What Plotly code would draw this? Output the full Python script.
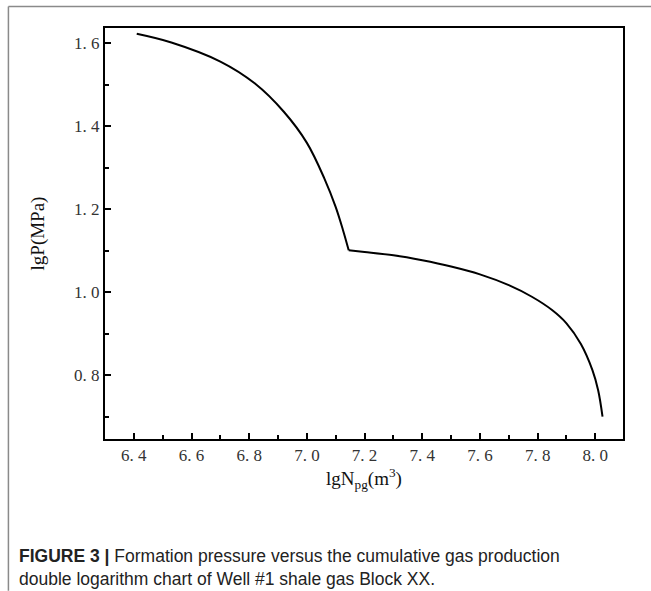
import plotly.graph_objects as go

# data
# early (steeper) regime, up to the break point
x_early = [6.41, 6.53, 6.70, 6.82, 6.92, 7.00, 7.06, 7.10, 7.125, 7.145]
y_early = [1.623, 1.602, 1.556, 1.503, 1.435, 1.360, 1.275, 1.205, 1.150, 1.101]
# late regime, from the break point on
x_late = [7.145, 7.20, 7.30, 7.40, 7.50, 7.60, 7.70, 7.78, 7.85, 7.90, 7.95, 7.99, 8.01, 8.025]
y_late = [1.101, 1.097, 1.089, 1.077, 1.062, 1.043, 1.017, 0.989, 0.957, 0.925, 0.875, 0.812,
          0.763, 0.700]

x_ticks = [6.4, 6.6, 6.8, 7.0, 7.2, 7.4, 7.6, 7.8, 8.0]
x_ticktext = ["6. 4", "6. 6", "6. 8", "7. 0", "7. 2", "7. 4", "7. 6", "7. 8", "8. 0"]
x_minor = [6.5, 6.7, 6.9, 7.1, 7.3, 7.5, 7.7, 7.9]
y_ticks = [0.8, 1.0, 1.2, 1.4, 1.6]
y_ticktext = ["0. 8", "1. 0", "1. 2", "1. 4", "1. 6"]
y_minor = [0.7, 0.9, 1.1, 1.3, 1.5]

W, H = 651, 591
L, R, T, B = 104.6, 622.7, 27.5, 439
pw, ph = R - L, B - T

def px(x):
    return (x - L) / pw

def py(y):
    return (B - y) / ph

serif = "Liberation Serif, Times New Roman, serif"

fig = go.Figure()
for xs, ys in [(x_early, y_early), (x_late, y_late)]:
    fig.add_trace(go.Scatter(x=xs, y=ys, mode="lines",
                             line=dict(color="black", width=2, shape="spline", smoothing=1.0),
                             showlegend=False, hoverinfo="skip"))

axis_common = dict(showline=True, linecolor="black", linewidth=2, mirror=True,
                   showgrid=False, zeroline=False, ticks="inside", ticklen=6,
                   tickwidth=2, tickcolor="black",
                   tickfont=dict(family=serif, size=17, color="#333"))

fig.update_xaxes(range=[6.3, 8.096], tickvals=x_ticks, ticktext=x_ticktext,
                 minor=dict(tickvals=x_minor, ticks="inside", ticklen=4, tickwidth=2,
                            tickcolor="black"),
                 title=dict(text="lgN<sub>pg</sub>(m<sup>3</sup>)",
                            font=dict(family=serif, size=19, color="#111"), standoff=4),
                 **axis_common)
fig.update_yaxes(range=[0.646, 1.637], tickvals=y_ticks, ticktext=y_ticktext,
                 minor=dict(tickvals=y_minor, ticks="inside", ticklen=4, tickwidth=2,
                            tickcolor="black"),
                 title=dict(text="lgP(MPa)",
                            font=dict(family=serif, size=19, color="#111"), standoff=24),
                 **axis_common)

# page border lines (gray)
fig.add_shape(type="line", xref="paper", yref="paper", x0=px(8), x1=px(651),
              y0=py(6), y1=py(6), line=dict(color="#8a8a8a", width=1.5))
fig.add_shape(type="line", xref="paper", yref="paper", x0=px(8), x1=px(8),
              y0=py(6), y1=py(591), line=dict(color="#8a8a8a", width=1.5))

# caption
fig.add_annotation(xref="paper", yref="paper", x=px(17), y=py(544), xanchor="left",
                   yanchor="top", align="left", showarrow=False,
                   text="<b>FIGURE 3 |</b> Formation pressure versus the cumulative gas production<br>"
                        "double logarithm chart of Well #1 shale gas Block XX.",
                   font=dict(family="Liberation Sans, Arial, sans-serif", size=17.5, color="#222"))

fig.update_layout(width=W, height=H, margin=dict(l=L, r=W - R, t=T, b=H - B),
                  paper_bgcolor="white", plot_bgcolor="white")

fig.write_html("out.html")
